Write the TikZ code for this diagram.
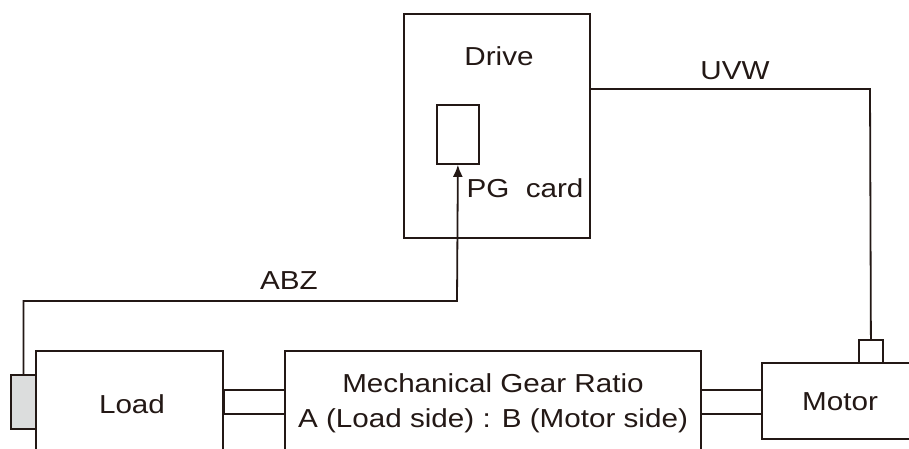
\documentclass[tikz,border=0pt]{standalone}
\usepackage{fontspec}
\setmainfont{Liberation Sans}[FakeStretch=1.14]
\usetikzlibrary{arrows.meta}
\definecolor{ink}{HTML}{231815}
\definecolor{encgray}{HTML}{DCDDDD}
\begin{document}
\begin{tikzpicture}[x=1pt,y=-1pt,
  box/.style={draw=ink, line width=1.8pt, rectangle, inner sep=0pt, minimum width=#1},
  lbl/.style={text=ink, font=\fontsize{26}{30}\selectfont, inner sep=0pt, anchor=base},
  wire/.style={draw=ink, line width=1.8pt}]
\useasboundingbox (0,0) rectangle (909,448);
\clip (0,0) rectangle (909,448);
\fill[white] (0,0) rectangle (909,448);
% boxes
\node[box=186pt, minimum height=224pt, anchor=north west] (drive) at (403,13) {};
\node[box=42pt, minimum height=59pt, anchor=north west] (pg) at (436,104) {};
\node[box=187pt, minimum height=120pt, anchor=north west] (load) at (35,350) {};
\node[box=25pt, minimum height=54pt, anchor=north west, fill=encgray] (enc) at (10,374) {};
\node[box=416pt, minimum height=120pt, anchor=north west] (gear) at (284,350) {};
\node[box=160pt, minimum height=76pt, anchor=north west] (motor) at (761,362) {};
\node[box=24pt, minimum height=23pt, anchor=north west] (conn) at (858,339) {};
\node[box=61pt, minimum height=24pt, anchor=north west] (lshaft) at (223,389) {};
\node[box=61pt, minimum height=24pt, anchor=north west] (mshaft) at (700,389) {};
% connectors
\coordinate (abzc) at (457,301);
\draw[wire, -{Latex[length=12pt,width=10pt]}] (enc.north) |- (abzc) -- (pg.south);
\coordinate (uvwa) at (589,89);
\coordinate (uvwb) at (870,89);
\draw[wire] (uvwa) -- (uvwb) -- (conn.north);
% labels
\node[lbl] (tdrive) at (499,65) {Drive};
\node[lbl] (tpg) at (525,197) {PG\ \ card};
\node[lbl] (tuvw) at (735,79) {UVW};
\node[lbl] (tabz) at (289,289) {ABZ};
\node[lbl] (tload) at (132,413) {Load};
\node[lbl] (tgear1) at (493,392) {Mechanical Gear Ratio};
\node[lbl] (tgear2) at (493,427) {A (Load side) : B (Motor side)};
\node[lbl] (tmotor) at (840,410) {Motor};
\end{tikzpicture}
\end{document}
